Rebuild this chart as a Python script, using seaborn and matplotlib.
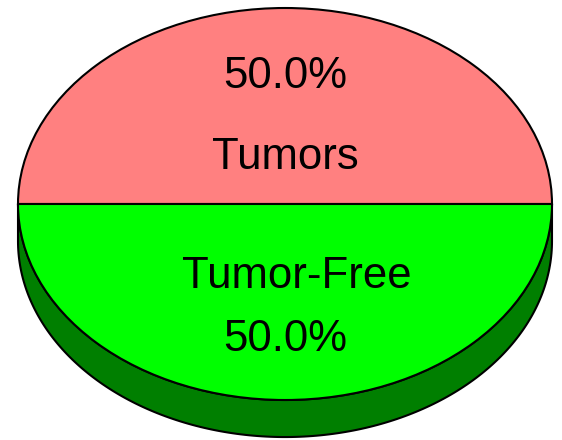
import numpy as np
import matplotlib
matplotlib.use("Agg")
import matplotlib.pyplot as plt
import seaborn as sns

labels = ["Tumors", "Tumor-Free"]
values = [50, 50]
top_colors = ["#FF8080", "#00FF00"]
side_color = "#007F00"

sns.set_style("white")
plt.rcParams["font.family"] = ["Liberation Sans", "DejaVu Sans"]

fig = plt.figure(figsize=(5.62, 4.40), dpi=100)
ax = fig.add_axes([0, 0, 1, 1])

depth = 0.189
# side of the 3D disc (lower half visible)
t = np.linspace(np.pi, 2 * np.pi, 200)
xs = np.concatenate([np.cos(t), np.cos(t[::-1])])
ys = np.concatenate([np.sin(t), np.sin(t[::-1]) - depth])
ax.fill(xs, ys, facecolor=side_color, edgecolor="black", linewidth=1.5, zorder=0)

wedges, texts, autotexts = ax.pie(
    values, labels=labels, colors=top_colors, startangle=0, counterclock=True,
    autopct="%1.1f%%", radius=1.0,
    wedgeprops=dict(edgecolor="black", linewidth=1.5),
    textprops=dict(fontsize=31.5, color="black"),
)
for w in wedges:
    w.set_zorder(1)

label_pos = [(0.0, 0.179), (0.045, -0.429)]
pct_pos = [(0.002, 0.592), (0.0, -0.750)]
for tx, p in zip(texts, label_pos):
    tx.set_position(p)
    tx.set_ha("center")
    tx.set_va("baseline")
    tx.set_zorder(3)
for tx, p in zip(autotexts, pct_pos):
    tx.set_position(p)
    tx.set_ha("center")
    tx.set_va("baseline")
    tx.set_zorder(3)

ax.set_aspect("auto")
ax.set_xlim(-285 / 267, (562 - 285) / 267)
ax.set_ylim(-(440 - 204) / 196, 204 / 196)
ax.axis("off")

fig.savefig("out.png", dpi=100, facecolor="white")
